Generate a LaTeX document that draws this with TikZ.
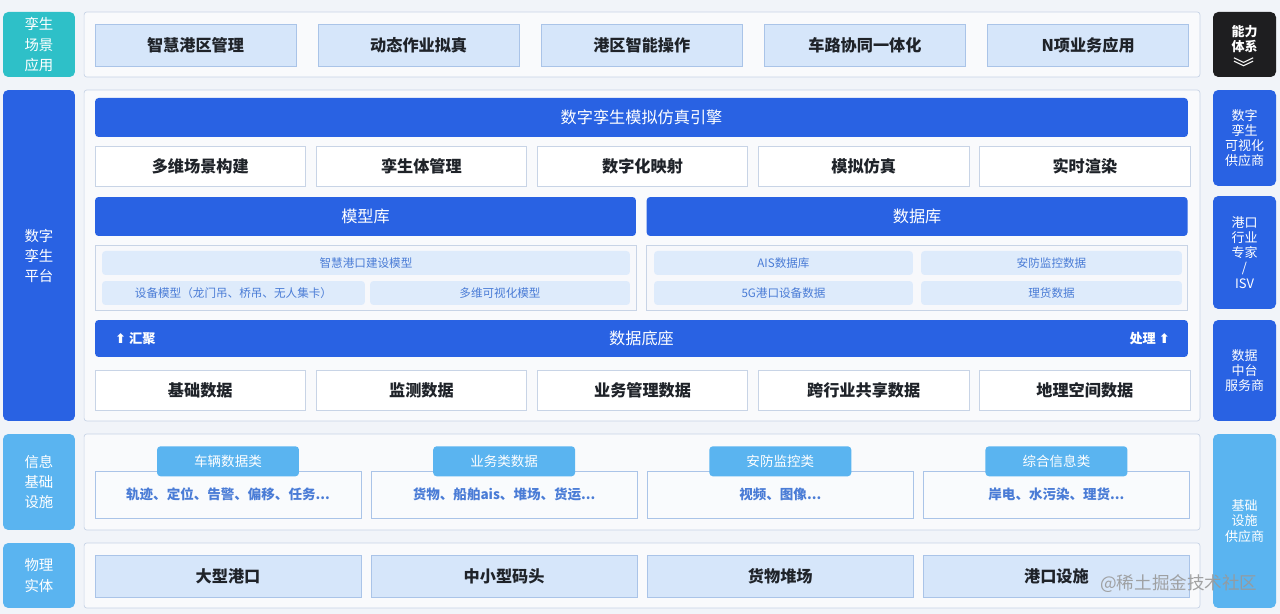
\documentclass[tikz,border=0pt]{standalone}
\usepackage{fontspec}
\setmainfont{Noto Sans CJK SC}
\newfontfamily\symfont{DejaVu Sans}
\usepackage{tikz}
\usetikzlibrary{positioning}
\definecolor{ptblue}{RGB}{41,98,227}
\definecolor{ptteal}{RGB}{46,192,200}
\definecolor{ptsky}{RGB}{90,180,240}
\definecolor{ptdark}{RGB}{30,30,32}
\definecolor{ptpale}{RGB}{214,230,250}
\definecolor{ptpaleline}{RGB}{170,196,232}
\definecolor{ptline}{RGB}{200,212,230}
\definecolor{pttext}{RGB}{74,124,214}
\definecolor{ptbg}{RGB}{241,244,249}
\definecolor{ptink}{RGB}{31,35,41}

\begin{document}
\begin{tikzpicture}[x=0.02cm, y=-0.02cm,
  lbl/.style={rectangle, rounded corners=3pt, fill=ptblue, text=white, minimum width=1.44cm, inner sep=0pt, align=center, font=\fontsize{8.2}{11.4}\selectfont},
  rlbl/.style={rectangle, rounded corners=3pt, fill=ptblue, text=white, minimum width=1.26cm, inner sep=0pt, align=center, font=\fontsize{7.4}{8.6}\selectfont},
  panel/.style={rectangle, rounded corners=1.5pt, draw=ptline, fill=white!55!ptbg, minimum width=22.32cm, inner sep=0pt},
  appbox/.style={rectangle, draw=ptpaleline, fill=ptpale, minimum width=4.02cm, minimum height=0.84cm, inner sep=0pt, text=ptink, font=\fontsize{9.2}{11}\selectfont\bfseries},
  wbox/.style={rectangle, draw=ptline, fill=white, minimum width=4.21cm, minimum height=0.8cm, inner sep=0pt, text=ptink, font=\fontsize{9.2}{11}\selectfont\bfseries},
  bar/.style={rectangle, rounded corners=2pt, fill=ptblue, text=white, minimum height=0.78cm, inner sep=0pt, font=\fontsize{9.2}{11}\selectfont},
  subpan/.style={rectangle, draw=ptline, fill=white!40!ptbg, minimum width=10.82cm, minimum height=1.3cm, inner sep=0pt},
  item/.style={rectangle, rounded corners=2pt, fill=ptpale!80!white, minimum height=0.48cm, inner sep=0pt, text=pttext, font=\fontsize{6.6}{8}\selectfont},
  side/.style={text=white, inner sep=0pt, font=\fontsize{7.5}{9}\selectfont\bfseries},
  ibox/.style={rectangle, draw=ptpaleline, fill=white!60!ptbg, minimum width=5.32cm, minimum height=0.94cm, inner sep=0pt, text=pttext, font=\fontsize{7.7}{9}\selectfont\bfseries},
  tab/.style={rectangle, rounded corners=2pt, fill=ptsky, text=white, minimum width=2.84cm, minimum height=0.6cm, inner sep=0pt, font=\fontsize{7.7}{9}\selectfont},
  pbox/.style={rectangle, draw=ptpaleline, fill=ptpale, minimum width=5.32cm, minimum height=0.84cm, inner sep=0pt, text=ptink, font=\fontsize{9.2}{11}\selectfont\bfseries}
]
% background
\fill[ptbg] (0,0) rectangle (1280,614);
\useasboundingbox (0,0) rectangle (1280,614);

% left layer labels
\node[lbl, fill=ptteal, minimum height=1.3cm] (lApp) at (39,44.5) {孪生\\场景\\应用};
\node[lbl, minimum height=6.62cm] (lPlat) at (39,255.5) {数字\\孪生\\平台};
\node[lbl, fill=ptsky, minimum height=1.92cm] (lInfo) at (39,482) {信息\\基础\\设施};
\node[lbl, fill=ptsky, minimum height=1.3cm] (lPhys) at (39,575.5) {物理\\实体};

% layer panels
\node[panel, minimum height=1.3cm] (pApp) at (642,44.5) {};
\node[panel, minimum height=6.62cm] (pPlat) at (642,255.5) {};
\node[panel, minimum height=1.92cm] (pInfo) at (642,482) {};
\node[panel, minimum height=1.3cm] (pPhys) at (642,575.5) {};

% right column
\node[rlbl, fill=ptdark, minimum height=1.3cm] (rAbil) at (1244.5,44.5) {};
\node[rlbl, fill=none, anchor=north] (rAbilTxt) at ([yshift=-0.26cm]rAbil.north) {\bfseries 能力\\\bfseries 体系\\[2pt]{\fontsize{12}{9}\selectfont ︾}};
\node[rlbl, minimum height=1.92cm] (rVis) at (1244.5,138) {数字\\孪生\\可视化\\供应商};
\node[rlbl, minimum height=2.26cm] (rIsv) at (1244.5,252.5) {港口\\行业\\专家\\/\\ISV};
\node[rlbl, minimum height=2.02cm] (rData) at (1244.5,370.5) {数据\\中台\\服务商};
\node[rlbl, fill=ptsky, minimum height=3.48cm] (rInfra) at (1244.5,521) {基础\\设施\\供应商};

% scenario applications
\node[appbox] (a1) at (195.5,45) {智慧港区管理};
\node[appbox, right=0.43cm of a1] (a2) {动态作业拟真};
\node[appbox, right=0.43cm of a2] (a3) {港区智能操作};
\node[appbox, right=0.43cm of a3] (a4) {车路协同一体化};
\node[appbox, right=0.43cm of a4] (a5) {N项业务应用};

% platform
\node[bar, minimum width=21.86cm] (eng) at (641.5,117.5) {数字孪生模拟仿真引擎};
\node[wbox] (f1) at (200.25,166) {多维场景构建};
\node[wbox, right=0.2cm of f1] (f2) {孪生体管理};
\node[wbox, right=0.2cm of f2] (f3) {数字化映射};
\node[wbox, right=0.2cm of f3] (f4) {模拟仿真};
\node[wbox, right=0.2cm of f4] (f5) {实时渲染};

\node[bar, minimum width=10.82cm] (mlib) at (365.5,216.5) {模型库};
\node[bar, minimum width=10.82cm, right=0.2cm of mlib] (dlib) {数据库};
\node[subpan] (mpan) at (365.5,277.5) {};
\node[subpan, right=0.2cm of mpan] (dpan) {};
\node[item, minimum width=10.56cm] (mSmart) at (366,263) {智慧港口建设模型};
\node[item, minimum width=5.26cm] (mDev) at (233.5,293) {设备模型（龙门吊、桥吊、无人集卡）};
\node[item, minimum width=5.2cm] (mViz) at (500,293) {多维可视化模型};
\node[item, minimum width=5.18cm] (dAis) at (783.5,263) {AIS数据库};
\node[item, minimum width=5.22cm] (dSec) at (1051.5,263) {安防监控数据};
\node[item, minimum width=5.18cm] (d5g) at (783.5,293) {5G港口设备数据};
\node[item, minimum width=5.22cm] (dTally) at (1051.5,293) {理货数据};

\node[bar, minimum width=21.86cm, minimum height=0.74cm] (base) at (641.5,338.5) {数据底座};
\node[side, anchor=west] (gather) at ([xshift=0.4cm]base.west) {{\symfont ⬆}\ 汇聚};
\node[side, anchor=east] (handle) at ([xshift=-0.36cm]base.east) {处理\ {\symfont ⬆}};

\node[wbox] (s1) at (200.25,390) {基础数据};
\node[wbox, right=0.2cm of s1] (s2) {监测数据};
\node[wbox, right=0.2cm of s2] (s3) {业务管理数据};
\node[wbox, right=0.2cm of s3] (s4) {跨行业共享数据};
\node[wbox, right=0.2cm of s4] (s5) {地理空间数据};

% information infrastructure
\node[ibox] (i1) at (228,494.5) {轨迹、定位、告警、偏移、任务...};
\node[ibox, right=0.19cm of i1] (i2) {货物、船舶ais、堆场、货运...};
\node[ibox, right=0.19cm of i2] (i3) {视频、图像...};
\node[ibox, right=0.19cm of i3] (i4) {岸电、水污染、理货...};
\node[tab, above=-0.12cm of i1] (t1) {车辆数据类};
\node[tab, above=-0.12cm of i2] (t2) {业务类数据};
\node[tab, above=-0.12cm of i3] (t3) {安防监控类};
\node[tab, above=-0.12cm of i4] (t4) {综合信息类};

% physical entities
\node[pbox] (e1) at (228,576) {大型港口};
\node[pbox, right=0.19cm of e1] (e2) {中小型码头};
\node[pbox, right=0.19cm of e2] (e3) {货物堆场};
\node[pbox, right=0.19cm of e3] (e4) {港口设施};

\node[anchor=west, inner sep=0pt, text=gray!80, opacity=0.9, font=\fontsize{10}{12}\selectfont] (mark) at (1100,584) {@稀土掘金技术社区};
\end{tikzpicture}
\end{document}
